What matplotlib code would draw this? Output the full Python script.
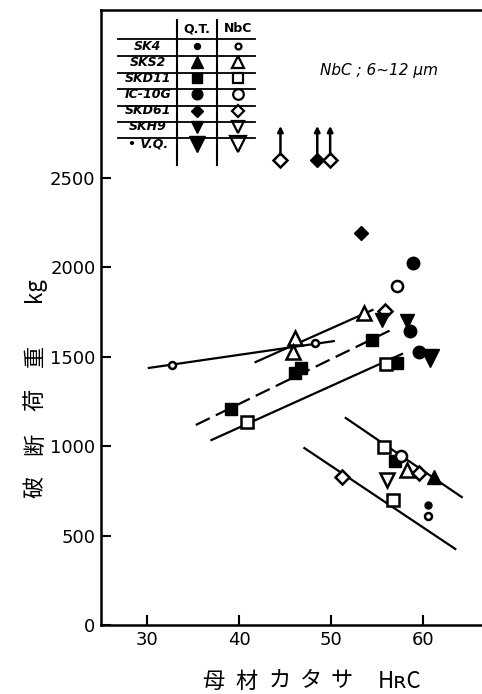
import matplotlib
matplotlib.use('Agg')
import matplotlib.pyplot as plt
from matplotlib.lines import Line2D

plt.rcParams['font.family'] = ['DejaVu Sans', 'Noto Sans CJK JP']

# ===================================
# Data
# ===================================

# SK4
sk4_ot_x = [60.5]
sk4_ot_y = [671]
sk4_nbc_x = [32.7, 48.3, 60.5]
sk4_nbc_y = [1453, 1576, 609]
# SKS2
sks2_ot_x = [61.2]
sks2_ot_y = [827]
sks2_nbc_x = [46.1, 45.9, 53.6, 58.2]
sks2_nbc_y = [1604, 1526, 1744, 866]
# SKD11
skd11_ot_x = [39.1, 46.1, 46.7, 54.5, 57.2, 57.0]
skd11_ot_y = [1207, 1409, 1437, 1593, 1464, 917]
skd11_nbc_x = [40.9, 56.0, 55.8, 56.7]
skd11_nbc_y = [1135, 1459, 995, 699]
# IC-10G
ic_ot_x = [58.9, 58.6, 59.5]
ic_ot_y = [2025, 1643, 1526]
ic_nbc_x = [57.2, 57.6]
ic_nbc_y = [1896, 945]
# SKD61
skd61_ot_x = [53.2]
skd61_ot_y = [2191]
skd61_nbc_x = [55.9, 59.6, 51.2]
skd61_nbc_y = [1755, 850, 827]
# SKH9
skh9_ot_x = [55.5, 58.3]
skh9_ot_y = [1705, 1700]
skh9_nbc_x = [56.1]
skh9_nbc_y = [810]
# V.Q.
vq_ot_x = [60.7]
vq_ot_y = [1492]

# SKD61 samples that did not break (arrows)
unbroken_x = [44.5, 48.5, 49.9]
unbroken_y = [2600, 2600, 2600]
unbroken_filled = [False, True, False]

# trend lines: (x0, x1), (y0, y1), style
trend_lines = [
    ((30.2, 50.3), (1437, 1587), '-'),
    ((41.8, 54.5), (1470, 1761), '-'),
    ((35.3, 56.5), (1118, 1649), (0, (7, 3))),
    ((37.0, 57.7), (1034, 1515), '-'),
    ((51.6, 64.2), (1157, 715), '-'),
    ((47.1, 63.5), (989, 425), '-'),
]

x_ticks = [30, 40, 50, 60]
y_ticks = [0, 500, 1000, 1500, 2000, 2500]

legend_names = ['SK4', 'SKS2', 'SKD11', 'IC-10G', 'SKD61', 'SKH9', '• V.Q.']
legend_markers = ['o', '^', 's', 'o', 'D', 'v', 'v']
legend_sizes = [5, 10, 8, 9, 7, 10, 13]

ylabel_parts = ['破', '断', '荷', '重', 'kg']
xlabel_parts = ['母', '材', 'カ', 'タ', 'サ', 'HʀC']

# ===================================
# Plotting
# ===================================

W, H = 482, 694
fig = plt.figure(figsize=(W / 100, H / 100), dpi=100)
ax = fig.add_axes([101 / W, 69 / H, (W - 101) / W, 615 / H])
ax.set_xlim(25, 66.4)
ax.set_ylim(0, 3438)


def pf(x, y):
    """pixel -> figure fraction"""
    return x / W, 1 - y / H


def pts(x, y, m, ms, filled):
    if filled:
        ax.plot(x, y, m, ms=ms, color='black', mec='black', ls='none', zorder=3)
    else:
        ax.plot(x, y, m, ms=ms, mfc='white', mec='black', mew=1.8, ls='none', zorder=3)


for xs, ys, st in trend_lines:
    ax.plot(xs, ys, color='black', lw=1.6, ls=st, zorder=2)

pts(sk4_ot_x, sk4_ot_y, 'o', 5, True)
pts(sk4_nbc_x, sk4_nbc_y, 'o', 5, False)
pts(sks2_ot_x, sks2_ot_y, '^', 10, True)
pts(sks2_nbc_x, sks2_nbc_y, '^', 10, False)
pts(skd11_ot_x, skd11_ot_y, 's', 8, True)
pts(skd11_nbc_x, skd11_nbc_y, 's', 8, False)
pts(ic_ot_x, ic_ot_y, 'o', 9, True)
pts(ic_nbc_x, ic_nbc_y, 'o', 8, False)
pts(skd61_ot_x, skd61_ot_y, 'D', 7, True)
pts(skd61_nbc_x, skd61_nbc_y, 'D', 7, False)
pts(skh9_ot_x, skh9_ot_y, 'v', 10, True)
pts(skh9_nbc_x, skh9_nbc_y, 'v', 10, False)
pts(vq_ot_x, vq_ot_y, 'v', 13, True)

for x, y, f in zip(unbroken_x, unbroken_y, unbroken_filled):
    pts([x], [y], 'D', 7, f)
    ax.annotate('', xy=(x, y + 190), xytext=(x, y + 30),
                arrowprops=dict(arrowstyle='-|>', color='black', lw=1.8,
                                mutation_scale=8, shrinkA=0, shrinkB=0))

# axes styling
ax.spines['right'].set_visible(False)
for s in ['left', 'bottom', 'top']:
    ax.spines[s].set_linewidth(1.8)
ax.set_xticks(x_ticks)
ax.set_yticks(y_ticks)
ax.tick_params(direction='in', length=7, width=1.5, labelsize=13, pad=4)
ax.set_xticklabels([str(t) for t in x_ticks])
ax.set_yticklabels([str(t) for t in y_ticks])

# axis titles, one glyph at a time (wide hand spacing)
cjk = ['Noto Sans CJK JP', 'DejaVu Sans']
for s, y in zip(ylabel_parts, [487, 444, 400, 356, 290]):
    fig.text(*pf(35, y), s, rotation=90, ha='center', va='center',
             fontsize=16, family=cjk)
for s, x in zip(xlabel_parts, [213, 247, 280, 311, 342, 400]):
    fig.text(*pf(x, 681), s, ha='center', va='center', fontsize=16, family=cjk)

fig.text(*pf(320, 70), 'NbC ; 6~12 μm', ha='left', va='center', fontsize=11,
         fontstyle='italic')

# legend table
col_x = [177, 217]
row_lines = [39, 56, 73, 89, 106, 122, 138]
row_text = [49, 65, 81, 97, 114, 130, 147]
for cx in col_x:
    fig.add_artist(Line2D(*zip(pf(cx, 20), pf(cx, 165)), color='black', lw=1.5))
for ry in row_lines:
    fig.add_artist(Line2D(*zip(pf(118, ry), pf(255, ry)), color='black', lw=1.3))
fig.text(*pf(197, 29), 'Q.T.', ha='center', va='center', fontsize=9, fontweight='bold')
fig.text(*pf(238, 29), 'NbC', ha='center', va='center', fontsize=9, fontweight='bold')
for name, m, ms, ry in zip(legend_names, legend_markers, legend_sizes, row_text):
    fig.text(*pf(148, ry - 3), name, ha='center', va='center', fontsize=9,
             fontstyle='italic', fontweight='bold')
    fx, fy = pf(197, ry - 3)
    ax.plot([fx], [fy], m, ms=ms * 0.85, color='black', transform=fig.transFigure,
            clip_on=False)
    fx, fy = pf(238, ry - 3)
    ax.plot([fx], [fy], m, ms=ms * 0.85, mfc='white', mec='black', mew=1.6,
            transform=fig.transFigure, clip_on=False)

fig.savefig('out.png', dpi=100)
